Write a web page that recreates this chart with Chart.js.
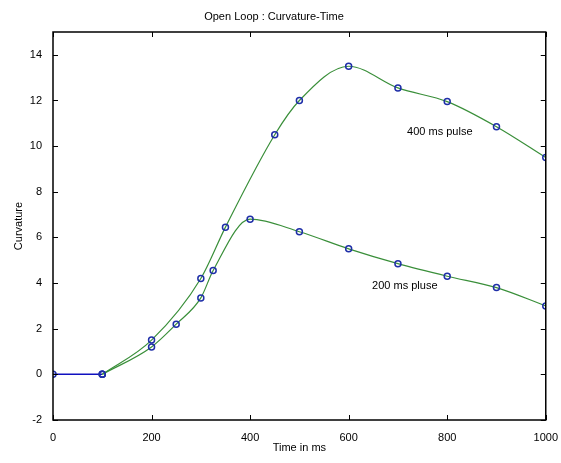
<!DOCTYPE html>
<html>
<head>
<meta charset="utf-8">
<script src="https://cdn.jsdelivr.net/npm/chart.js@4"></script>
<style>
  html, body { margin: 0; padding: 0; background: #fff; }
  #wrap { width: 561px; height: 463px; }
</style>
</head>
<body>
<div id="wrap"><canvas id="curveChart" width="561" height="463"></canvas></div>
<script>
// shared flat start before the pulse
const baseTimes = [0, 100];
const baseCurv = [0, 0];
// 400 ms pulse
const times400 = [100, 200, 300, 350, 450, 500, 600, 700, 800, 900, 1000];
const curv400 = [0, 1.5, 4.2, 6.45, 10.5, 12.0, 13.5, 12.55, 11.95, 10.85, 9.5];
// 200 ms pulse
const times200 = [100, 200, 250, 300, 325, 400, 500, 600, 700, 800, 900, 1000];
const curv200 = [0, 1.2, 2.2, 3.35, 4.55, 6.8, 6.25, 5.5, 4.85, 4.3, 3.8, 3.0];
// axis ticks
const xTicks = [0, 200, 400, 600, 800, 1000];
const yTicks = [-2, 0, 2, 4, 6, 8, 10, 12, 14];

const FONT = 'Liberation Sans, Arial, sans-serif';
const pts = (xs, ys) => xs.map((x, i) => ({x: x, y: ys[i]}));

const markerStyle = {
    pointStyle: 'circle',
    pointRadius: 3,
    pointBorderColor: '#1f2fa8',
    pointBackgroundColor: 'rgba(0,0,0,0)',
    pointBorderWidth: 1.5
};

// box, inner tick marks and the two curve labels
const framePlugin = {
    id: 'frame',
    afterDraw(chart) {
        const ctx = chart.ctx;
        const a = chart.chartArea;
        const xs = chart.scales.x, ys = chart.scales.y;
        ctx.save();
        ctx.strokeStyle = '#000';
        ctx.lineWidth = 1.5;
        ctx.strokeRect(a.left, a.top, a.right - a.left, a.bottom - a.top);
        ctx.lineWidth = 1;
        ctx.beginPath();
        xTicks.forEach(v => {
            const px = Math.round(xs.getPixelForValue(v)) + 0.5;
            ctx.moveTo(px, a.bottom); ctx.lineTo(px, a.bottom - 5);
            ctx.moveTo(px, a.top); ctx.lineTo(px, a.top + 5);
        });
        yTicks.forEach(v => {
            const py = Math.round(ys.getPixelForValue(v)) + 0.5;
            ctx.moveTo(a.left, py); ctx.lineTo(a.left + 5, py);
            ctx.moveTo(a.right, py); ctx.lineTo(a.right - 5, py);
        });
        ctx.stroke();
        ctx.fillStyle = '#000';
        ctx.font = '11px ' + FONT;
        ctx.textAlign = 'center';
        ctx.textBaseline = 'middle';
        ctx.fillText('400 ms pulse', xs.getPixelForValue(785), ys.getPixelForValue(10.6));
        ctx.fillText('200 ms pluse', xs.getPixelForValue(714), ys.getPixelForValue(3.88));
        ctx.restore();
    }
};

new Chart(document.getElementById('curveChart'), {
    type: 'line',
    data: {
        datasets: [{
            label: '400 ms pulse',
            data: pts(times400, curv400),
            borderColor: '#3a8f3a',
            borderWidth: 1.2,
            cubicInterpolationMode: 'monotone',
            ...markerStyle
        }, {
            label: '200 ms pluse',
            data: pts(times200, curv200),
            borderColor: '#3a8f3a',
            borderWidth: 1.2,
            cubicInterpolationMode: 'monotone',
            ...markerStyle
        }, {
            label: 'start',
            data: pts(baseTimes, baseCurv),
            borderColor: '#1010c0',
            borderWidth: 1.5,
            tension: 0,
            ...markerStyle
        }]
    },
    options: {
        responsive: false,
        animation: false,
        layout: {padding: {left: 0, right: 13, top: 0, bottom: 0}},
        plugins: {
            legend: {display: false},
            tooltip: {enabled: false},
            title: {
                display: true,
                text: 'Open Loop : Curvature-Time',
                color: '#000',
                font: {family: FONT, size: 11, weight: 'normal'},
                padding: {top: 10, bottom: 8.8}
            }
        },
        scales: {
            x: {
                type: 'linear',
                min: 0,
                max: 1000,
                afterFit: s => { s.height = 43; },
                afterBuildTicks: s => { s.ticks = xTicks.map(v => ({value: v})); },
                grid: {display: false},
                border: {display: false},
                ticks: {color: '#000', font: {family: FONT, size: 11}, padding: 3, maxRotation: 0,
                        callback: v => String(v)},
                title: {display: true, text: 'Time in ms', color: '#000',
                        font: {family: FONT, size: 11}, padding: {top: 0, bottom: 8}}
            },
            y: {
                min: -2,
                max: 15,
                afterFit: s => { s.width = 53; },
                afterBuildTicks: s => { s.ticks = yTicks.map(v => ({value: v})); },
                grid: {display: false},
                border: {display: false},
                ticks: {color: '#000', font: {family: FONT, size: 11}, padding: 3},
                title: {display: true, text: 'Curvature', color: '#000',
                        font: {family: FONT, size: 11}, padding: {top: 12, bottom: 0}}
            }
        }
    },
    plugins: [framePlugin]
});
</script>
</body>
</html>
